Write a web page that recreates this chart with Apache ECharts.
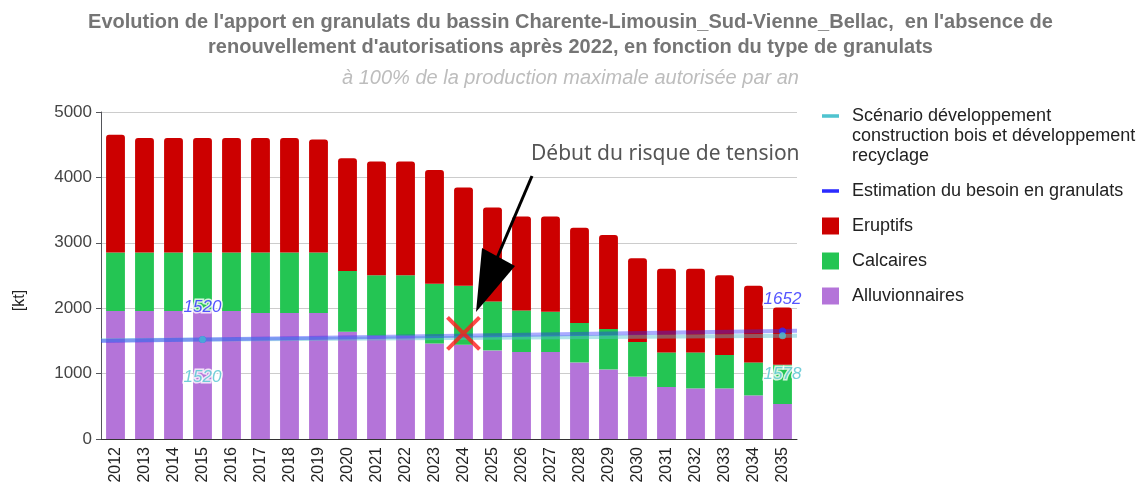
<!DOCTYPE html>
<html lang="fr">
<head>
  <meta charset="UTF-8">
  <title>Evolution de l'apport en granulats</title>
  <script src="https://cdn.jsdelivr.net/npm/echarts@6/dist/echarts.min.js"></script>
  <style>
    body { margin: 0; padding: 0; background: #fff; }
    #main { width: 1141px; height: 490px; }
  </style>
</head>
<body>
  <div id="main"></div>
  <script>
    // données (kt)
    var years = ['2012', '2013', '2014', '2015', '2016', '2017', '2018', '2019', '2020', '2021', '2022', '2023',
                 '2024', '2025', '2026', '2027', '2028', '2029', '2030', '2031', '2032', '2033', '2034', '2035'];
    var alluvionnaires = [1957, 1957, 1957, 1957, 1957, 1926, 1926, 1926, 1641, 1580, 1580, 1462,
                          1442, 1355, 1330, 1330, 1171, 1064, 953, 795, 774, 774, 667, 535];
    var calcaires = [896, 896, 896, 896, 896, 927, 927, 927, 928, 922, 922, 913,
                     902, 749, 636, 616, 603, 618, 530, 529, 550, 510, 504, 601];
    var eruptifs = [1800, 1749, 1749, 1749, 1749, 1749, 1749, 1728, 1722, 1743, 1743, 1738,
                    1501, 1437, 1438, 1458, 1457, 1437, 1279, 1280, 1280, 1218, 1173, 876];

    // points des deux courbes (année, valeur)
    var besoinPoints = [[2015, 1520], [2035, 1652]];
    var scenarioPoints = [[2015, 1520], [2035, 1578]];
    var riskPoint = [[2024, 1615]];

    var yTicks = { min: 0, max: 5000, interval: 1000 };

    // ligne de tendance linéaire entre les deux points, prolongée sur tout l'axe
    function trend(pts, x0, x1) {
      var a = (pts[1][1] - pts[0][1]) / (pts[1][0] - pts[0][0]);
      var b = pts[0][1] - a * pts[0][0];
      return [[x0, a * x0 + b], [x1, a * x1 + b]];
    }
    var xMin = 2011.5, xMax = 2035.5;

    var font = "'Liberation Sans', Arial, sans-serif";
    var blue = '#2b2bff';
    var cyan = '#4fc3cf';

    var chart = echarts.init(document.getElementById('main'));

    var option = {
      animation: false,
      textStyle: { fontFamily: font },
      title: {
        text: "Evolution de l'apport en granulats du bassin Charente-Limousin_Sud-Vienne_Bellac,  en l'absence de\nrenouvellement d'autorisations après 2022, en fonction du type de granulats",
        subtext: 'à 100% de la production maximale autorisée par an',
        left: 'center',
        top: 5,
        itemGap: 7,
        textStyle: { fontFamily: font, fontSize: 20, fontWeight: 'bold', color: '#757575', lineHeight: 25 },
        subtextStyle: { fontFamily: font, fontSize: 20, fontStyle: 'italic', color: '#bdbdbd', lineHeight: 22 }
      },
      legend: {
        orient: 'vertical',
        left: 817,
        top: 61,
        itemWidth: 17,
        itemHeight: 17,
        itemGap: 15,
        selectedMode: false,
        textStyle: { fontFamily: font, fontSize: 18, color: '#222', lineHeight: 20, padding: [0, 0, 0, 8] },
        data: [
          { name: 'Scénario', icon: 'path://M0,0H24V5H0Z' },
          { name: 'Estimation du besoin en granulats', icon: 'path://M0,0H24V5H0Z' },
          { name: 'Eruptifs', icon: 'rect' },
          { name: 'Calcaires', icon: 'rect' },
          { name: 'Alluvionnaires', icon: 'rect' }
        ],
        formatter: function (name) {
          if (name === 'Scénario') {
            // deux lignes vides en tête pour aligner la 1re ligne sur l'icône
            return '\n\nScénario développement\nconstruction bois et développement\nrecyclage';
          }
          return name;
        }
      },
      grid: { left: 101, right: 344, top: 112, bottom: 51 },
      xAxis: [
        {
          type: 'category',
          data: years,
          axisTick: { show: false },
          axisLine: { lineStyle: { color: '#333', width: 1 } },
          axisLabel: { rotate: 90, fontSize: 16, color: '#222', margin: 8 }
        },
        {
          type: 'value',
          min: xMin,
          max: xMax,
          show: false
        }
      ],
      yAxis: {
        type: 'value',
        min: yTicks.min,
        max: yTicks.max,
        interval: yTicks.interval,
        name: '[kt]',
        nameLocation: 'middle',
        nameRotate: 90,
        nameGap: 73,
        nameTextStyle: { fontSize: 16, color: '#222', padding: [0, 50, 0, 0] },
        axisLabel: { fontSize: 17, color: '#444', margin: 9, formatter: function (v) { return String(v); } },
        splitLine: { lineStyle: { color: '#cccccc' } }
      },
      series: [
        {
          name: 'Alluvionnaires', type: 'bar', stack: 'g', barCategoryGap: '35%',
          itemStyle: { color: '#b474d9' }, data: alluvionnaires
        },
        {
          name: 'Calcaires', type: 'bar', stack: 'g',
          itemStyle: { color: '#24c553' }, data: calcaires
        },
        {
          name: 'Eruptifs', type: 'bar', stack: 'g',
          itemStyle: { color: '#cc0000', borderRadius: [3, 3, 0, 0] }, data: eruptifs
        },
        // lignes de tendance
        {
          name: 'Scénario', type: 'line', xAxisIndex: 1, symbol: 'none', silent: true,
          itemStyle: { color: cyan },
          lineStyle: { color: cyan, width: 4, opacity: 0.45 },
          data: trend(scenarioPoints, xMin, xMax), z: 5
        },
        {
          name: 'Estimation du besoin en granulats', type: 'line', xAxisIndex: 1, symbol: 'none', silent: true,
          itemStyle: { color: blue },
          lineStyle: { color: blue, width: 4, opacity: 0.4 },
          data: trend(besoinPoints, xMin, xMax), z: 5
        },
        // points et étiquettes
        {
          name: 'Estimation du besoin en granulats', type: 'scatter', xAxisIndex: 1,
          symbolSize: 7, itemStyle: { color: blue }, z: 6,
          label: {
            show: true, position: 'top', distance: 20,
            fontSize: 17, fontStyle: 'italic', color: blue,
            textBorderColor: '#fff', textBorderWidth: 3,
            formatter: function (p) { return p.value[1]; }
          },
          data: besoinPoints
        },
        {
          name: 'Scénario', type: 'scatter', xAxisIndex: 1,
          symbolSize: 7, itemStyle: { color: cyan }, z: 7,
          label: {
            show: true, position: 'bottom', distance: 26,
            fontSize: 17, fontStyle: 'italic', color: cyan,
            textBorderColor: '#fff', textBorderWidth: 3,
            formatter: function (p) { return p.value[1]; }
          },
          data: scenarioPoints
        },
        // croix rouge : début du risque de tension
        {
          type: 'scatter', xAxisIndex: 1, silent: true, z: 8,
          symbol: 'path://M0,0L10,10M10,0L0,10',
          symbolSize: 32,
          itemStyle: { color: 'none', borderColor: '#ff1a1a', borderWidth: 4 },
          data: riskPoint
        }
      ],
      graphic: [
        {
          type: 'text', left: 531, top: 144, z: 20,
          style: { text: 'Début du risque de tension', fontFamily: "'Noto Sans', sans-serif", fontSize: 21, fill: '#555' }
        },
        {
          type: 'line', z: 20,
          shape: { x1: 532, y1: 176, x2: 497, y2: 258 },
          style: { stroke: '#000', lineWidth: 3 }
        },
        {
          type: 'polygon', z: 20,
          shape: { points: [[482, 248], [515, 266], [476, 312]] },
          style: { fill: '#000' }
        }
      ]
    };

    chart.setOption(option);
  </script>
</body>
</html>
